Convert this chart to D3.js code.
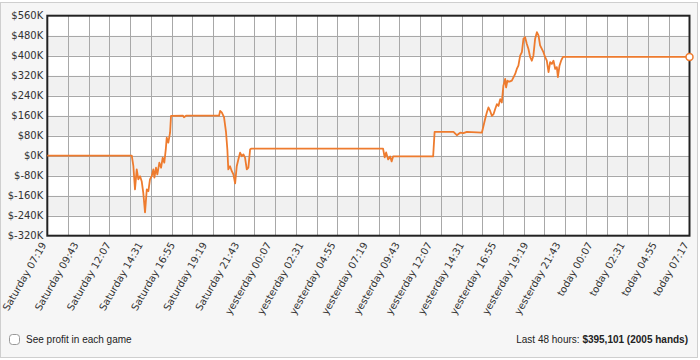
<!DOCTYPE html>
<html>
<head>
<meta charset="utf-8">
<script src="https://cdn.jsdelivr.net/npm/d3@7"></script>
<style>
  body { margin: 0; background: #fff; }
  .axis text { font-family: "DejaVu Sans", Verdana, sans-serif; font-size: 10px; fill: #333; }
  .foot { font-family: "Liberation Sans", Arial, sans-serif; font-size: 10px; fill: #222; }
</style>
</head>
<body>
<script>
// hours since Saturday 07:19 and running profit in $K
var hours = [0, 6.31, 6.43, 6.55, 6.68, 6.80, 6.93, 7.05, 7.17, 7.30, 7.43, 7.55, 7.67, 7.80, 7.92, 8.00,
  8.12, 8.22, 8.37, 8.50, 8.62, 8.74, 8.85, 8.92, 9.04, 9.17, 9.24, 10.14, 10.21, 10.36, 12.83, 12.91,
  13.03, 13.20, 13.35, 13.45, 13.52, 13.65, 13.78, 13.90, 14.03, 14.15, 14.27, 14.40, 14.53, 14.65,
  14.77, 14.90, 15.02, 15.15, 15.22, 25.08, 25.20, 25.31, 25.46, 25.61, 25.72, 25.83, 28.82, 28.93,
  30.34, 30.59, 30.84, 31.08, 31.34, 32.46, 32.58, 32.70, 32.83, 32.95, 33.08, 33.21, 33.33, 33.45,
  33.58, 33.70, 33.83, 33.95, 34.07, 34.20, 34.27, 34.37, 34.52, 34.70, 34.95, 35.07, 35.19, 35.32,
  35.45, 35.57, 35.69, 35.82, 35.94, 36.07, 36.19, 36.31, 36.44, 36.57, 36.69, 36.81, 36.94, 37.06,
  37.19, 37.31, 37.44, 37.56, 37.69, 37.81, 37.94, 38.06, 38.14, 38.26, 38.38, 38.51, 38.56, 47.97];
var profitK = [0, 0, -42, -135, -55, -95, -82, -102, -149, -227, -135, -142, -95, -82, -55, -88,
  -48, -75, -28, -48, -8, -28, 25, 72, 52, 92, 159, 160, 154, 160, 160, 179,
  173, 154, 94, 25, -55, -42, -62, -75, -111, -42, -15, 12, -2, 5,
  -8, -55, -48, 25, 28, 28, -7, 13, -15, -3, -23, -3, -3, 95,
  95, 82, 92, 90, 95, 92, 119, 146, 173, 193, 179, 159, 166, 186,
  206, 199, 226, 213, 280, 307, 273, 300, 296, 300, 327, 347, 360, 400,
  414, 468, 474, 447, 427, 394, 380, 400, 468, 494, 481, 441, 427, 414,
  394, 380, 334, 374, 367, 380, 347, 354, 314, 360, 380, 394, 395.1, 395.1];

var tickLabels = ["Saturday 07:19", "Saturday 09:43", "Saturday 12:07", "Saturday 14:31", "Saturday 16:55",
  "Saturday 19:19", "Saturday 21:43", "yesterday 00:07", "yesterday 02:31", "yesterday 04:55",
  "yesterday 07:19", "yesterday 09:43", "yesterday 12:07", "yesterday 14:31", "yesterday 16:55",
  "yesterday 19:19", "yesterday 21:43", "today 00:07", "today 02:31", "today 04:55", "today 07:17"];
var tickHours = [0, 2.4, 4.8, 7.2, 9.6, 12, 14.4, 16.8, 19.2, 21.6, 24, 26.4, 28.8, 31.2, 33.6,
  36, 38.4, 40.8, 43.2, 45.6, 47.97];
var yTicks = [-320, -240, -160, -80, 0, 80, 160, 240, 320, 400, 480, 560];

var endHour = 47.97;
var plot = {left: 47.3, right: 689.5, top: 15.7, bottom: 235.7};

var svg = d3.select("body").append("svg")
    .attr("width", 700)
    .attr("height", 360);

// outer panel
svg.append("rect").attr("x", 0.5).attr("y", 2.5).attr("width", 697).attr("height", 355)
  .attr("fill", "#f6f6f6").attr("stroke", "#cfcfcf");

var x = d3.scaleLinear().domain([0, endHour]).range([plot.left, plot.right]);
var y = d3.scaleLinear().domain([-320, 560]).range([plot.bottom, plot.top]);

svg.append("rect").attr("x", plot.left).attr("y", plot.top)
  .attr("width", plot.right - plot.left).attr("height", plot.bottom - plot.top)
  .attr("fill", "#fff");

// alternating bands
svg.selectAll(".band").data(yTicks.filter((v, i) => i % 2 == 1 && v < 560)).enter()
  .append("rect").attr("class", "band")
  .attr("x", plot.left).attr("width", plot.right - plot.left)
  .attr("y", d => y(d + 80)).attr("height", d => y(d) - y(d + 80))
  .attr("fill", "#f1f1f1");

// grid
var vGrid = d3.range(1, 31).map(i => endHour * i / 31);
svg.selectAll(".vgrid").data(vGrid).enter().append("line")
  .attr("x1", d => Math.round(x(d)) + 0.5).attr("x2", d => Math.round(x(d)) + 0.5)
  .attr("y1", plot.top).attr("y2", plot.bottom)
  .attr("stroke", "#a8a8a8");
svg.selectAll(".hgrid").data(yTicks.slice(1, -1)).enter().append("line")
  .attr("x1", plot.left).attr("x2", plot.right)
  .attr("y1", d => Math.round(y(d)) + 0.5).attr("y2", d => Math.round(y(d)) + 0.5)
  .attr("stroke", "#a8a8a8");

// axes
svg.append("g").attr("class", "axis")
  .attr("transform", "translate(" + plot.left + ",0)")
  .call(d3.axisLeft(y).tickValues(yTicks).tickSize(0).tickPadding(4)
    .tickFormat(d => "$" + d + "K"))
  .call(g => g.select(".domain").remove());

svg.append("g").attr("class", "axis")
  .attr("transform", "translate(0," + plot.bottom + ")")
  .call(d3.axisBottom(x).tickValues(tickHours).tickSize(0)
    .tickFormat((d, i) => tickLabels[i]))
  .call(g => g.select(".domain").remove())
  .selectAll("text")
    .attr("x", 0).attr("y", 0).attr("dy", 0)
    .attr("text-anchor", "end")
    .attr("transform", "translate(-1,9) rotate(-60)");

// frame
svg.append("rect").attr("x", plot.left).attr("y", plot.top)
  .attr("width", plot.right - plot.left).attr("height", plot.bottom - plot.top)
  .attr("fill", "none").attr("stroke", "#222").attr("stroke-width", 2);

// profit line
var pts = hours.map((h, i) => [h, profitK[i]]);
var line = d3.line().x(d => x(d[0])).y(d => y(d[1]));
svg.append("path").datum(pts)
  .attr("d", line)
  .attr("fill", "none")
  .attr("stroke", "#ee7b2e")
  .attr("stroke-width", 1.8)
  .attr("stroke-linejoin", "round");

var last = pts[pts.length - 1];
svg.append("circle").attr("cx", x(last[0])).attr("cy", y(last[1])).attr("r", 3.5)
  .attr("fill", "#fff").attr("stroke", "#ee7b2e").attr("stroke-width", 1.5);

// footer
svg.append("rect").attr("x", 9.5).attr("y", 334.5).attr("width", 10).attr("height", 10).attr("rx", 3)
  .attr("fill", "#fff").attr("stroke", "#999");
svg.append("text").attr("class", "foot").attr("x", 26).attr("y", 343).text("See profit in each game");
var t = svg.append("text").attr("class", "foot").attr("x", 688).attr("y", 343).attr("text-anchor", "end");
t.append("tspan").text("Last 48 hours: ");
t.append("tspan").attr("font-weight", "bold").text("$395,101 (2005 hands)");
</script>
</body>
</html>
